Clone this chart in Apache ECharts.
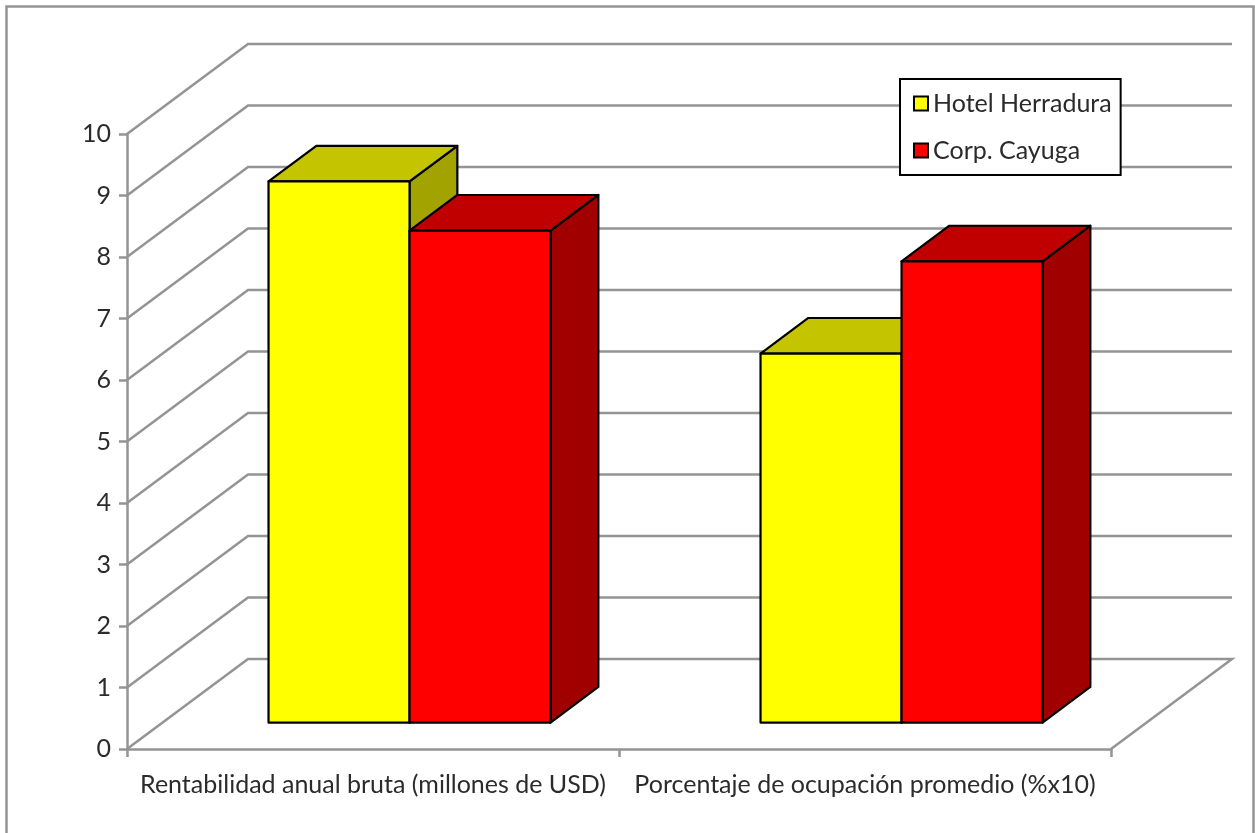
<!DOCTYPE html>
<html>
<head>
<meta charset="utf-8">
<style>html,body{margin:0;padding:0;background:#fff}#chart{width:1255px;height:833px}</style>
<script src="https://cdn.jsdelivr.net/npm/echarts@6/dist/echarts.min.js"></script>
</head>
<body>
<div id="chart"></div>
<script>
// Category labels, series values and value-axis ticks
const categories = ['Rentabilidad anual bruta (millones de USD)', 'Porcentaje de ocupación promedio (%x10)'];
const hotelHerradura = [8.8, 6.0];
const corpCayuga = [8.0, 7.5];
const yTicks = [0, 1, 2, 3, 4, 5, 6, 7, 8, 9, 10];

// Projection of the chart depth onto the screen
const DEPTH_X = 121, DEPTH_Y = -90;
const BAR_SHIFT_X = 0.302;  // front plane of the bars, as a share of the depth
const BAR_SHIFT_Y = 0.294;
const BAR_DEPTH = 0.395;    // thickness of the bars, as a share of the depth
const BAR_WIDTH = 0.2866;   // width of one bar, as a share of the category band
const GREY = '#949494', FONT = 'Lato', INK = '#2b2b2b';

// Back wall and floor lines, one per tick
function renderGridLine(params, api) {
  const cs = params.coordSys;
  const y = api.coord([0, api.value(1)])[1];
  const x0 = cs.x, x1 = cs.x + cs.width;
  const pts = [[x0, y], [x0 + DEPTH_X, y + DEPTH_Y], [x1 + DEPTH_X, y + DEPTH_Y]];
  if (api.value(1) === 0) pts.push([x1, y]);
  return { type: 'polyline', shape: { points: pts }, silent: true,
    style: { fill: null, stroke: GREY, lineWidth: 2.5 } };
}

// Box-shaped bar: side face, top face, then front face
function boxRenderer(offset, front, top, side) {
  return function (params, api) {
    const band = api.size([1, 0])[0];
    const base = api.coord([api.value(0), 0]);
    const head = api.coord([api.value(0), api.value(1)]);
    const w = band * BAR_WIDTH;
    const sx = DEPTH_X * BAR_SHIFT_X, sy = DEPTH_Y * BAR_SHIFT_Y;
    const dx = DEPTH_X * BAR_DEPTH, dy = DEPTH_Y * BAR_DEPTH;
    const l = base[0] + sx + offset * w, r = l + w;
    const b = base[1] + sy, t = head[1] + sy;
    const edge = { stroke: '#000', lineWidth: 2.2, lineJoin: 'round' };
    const face = (pts, fill) => ({ type: 'polygon', shape: { points: pts },
      style: Object.assign({ fill: fill }, edge) });
    return { type: 'group', children: [
      face([[r, t], [r + dx, t + dy], [r + dx, b + dy], [r, b]], side),
      face([[l, t], [l + dx, t + dy], [r + dx, t + dy], [r, t]], top),
      face([[l, t], [r, t], [r, b], [l, b]], front)
    ] };
  };
}

const chart = echarts.init(document.getElementById('chart'));
chart.setOption({
  animation: false,
  backgroundColor: '#fff',
  graphic: [{
    type: 'rect', silent: true, z: 0,
    shape: { x: 6.5, y: 6.5, width: 1247, height: 900 },
    style: { fill: null, stroke: GREY, lineWidth: 2.5 }
  }],
  grid: { left: 127, right: 144, top: 134, bottom: 84 },
  legend: {
    left: 900, top: 79, orient: 'vertical',
    data: ['Hotel Herradura', 'Corp. Cayuga'],
    icon: 'rect', itemWidth: 14, itemHeight: 14, itemGap: 22,
    padding: [12, 9, 12, 13],
    backgroundColor: '#fff', borderColor: '#000', borderWidth: 2,
    itemStyle: { borderColor: '#000', borderWidth: 2 },
    textStyle: { fontFamily: FONT, fontSize: 25, color: INK }
  },
  xAxis: {
    type: 'category', data: categories,
    axisLine: { lineStyle: { color: GREY, width: 2.5 } },
    axisTick: { show: true, length: 8, alignWithLabel: false, lineStyle: { color: GREY, width: 2.5 } },
    axisLabel: { fontFamily: FONT, fontSize: 25, color: INK, margin: 23, interval: 0 },
    splitLine: { show: false }
  },
  yAxis: {
    type: 'value', min: 0, max: 10, interval: 1,
    axisLine: { show: true, lineStyle: { color: GREY, width: 2.5 } },
    axisTick: { show: true, length: 8, lineStyle: { color: GREY, width: 2.5 } },
    axisLabel: { fontFamily: FONT, fontSize: 25, color: INK, margin: 16, padding: [3, 0, 0, 0] },
    splitLine: { show: false }
  },
  series: [
    { type: 'custom', name: 'walls', silent: true, renderItem: renderGridLine,
      data: yTicks.map(t => [0, t]), encode: { x: 0, y: 1 } },
    { type: 'custom', name: 'Hotel Herradura', itemStyle: { color: '#ffff00' },
      renderItem: boxRenderer(-1, '#ffff00', '#c4c400', '#a3a300'),
      data: hotelHerradura.map((v, i) => [i, v]), encode: { x: 0, y: 1 } },
    { type: 'custom', name: 'Corp. Cayuga', itemStyle: { color: '#ff0000' },
      renderItem: boxRenderer(0, '#ff0000', '#c00000', '#a00000'),
      data: corpCayuga.map((v, i) => [i, v]), encode: { x: 0, y: 1 } }
  ]
});
</script>
</body>
</html>
